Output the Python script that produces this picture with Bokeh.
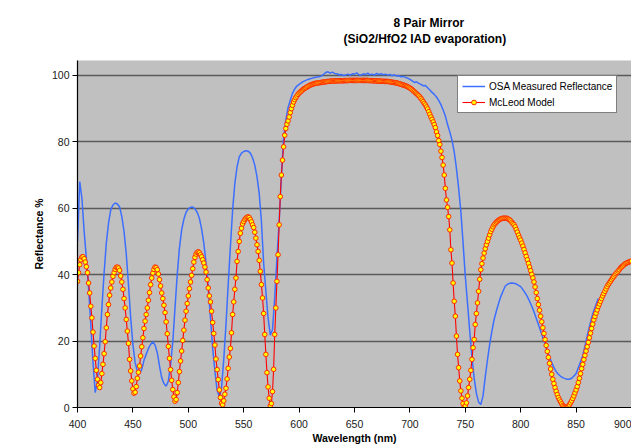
from bokeh.plotting import figure
from bokeh.models import Range1d, FixedTicker, Legend, LegendItem, Title
from bokeh.embed import file_html
from bokeh.resources import INLINE

# ---------------- data ----------------
title_line1 = "8 Pair Mirror"
title_line2 = "(SiO2/HfO2 IAD evaporation)"
x_label = "Wavelength (nm)"
y_label = "Reflectance %"
series_names = ["OSA Measured Reflectance", "McLeod Model"]
x_ticks = [400, 450, 500, 550, 600, 650, 700, 750, 800, 850, 900]
y_ticks = [0, 20, 40, 60, 80, 100]

# McLeod model, 1 nm steps 400..900
model_wl = list(range(400, 901))
model_r = [
    38.0, 40.6, 43.0, 44.5, 45.3, 45.4, 44.8, 43.8, 42.4, 40.6,
    37.5, 34.5, 30.5, 27.0, 22.7, 18.5, 14.8, 11.2, 8.5, 6.7,
    6.0, 7.5, 10.2, 13.0, 16.2, 19.8, 24.0, 28.0, 31.0, 33.8,
    36.0, 37.8, 39.5, 40.6, 41.6, 42.2, 42.3, 42.0, 41.3, 39.6,
    37.8, 35.6, 32.8, 30.0, 26.5, 23.0, 19.3, 14.5, 11.0, 8.0,
    5.6, 4.3, 4.6, 6.3, 8.8, 10.6, 12.5, 15.5, 18.3, 21.0,
    23.8, 26.0, 28.0, 30.0, 32.3, 34.6, 37.0, 39.0, 40.5, 41.6,
    42.3, 42.1, 41.5, 40.2, 38.5, 36.6, 34.5, 32.8, 30.8, 28.6,
    25.8, 22.2, 18.4, 14.8, 11.4, 8.2, 5.4, 3.2, 1.9, 2.4,
    4.5, 7.5, 10.8, 14.0, 17.0, 20.2, 23.3, 26.3, 29.0, 31.3,
    33.6, 35.8, 37.8, 39.8, 41.8, 43.8, 45.2, 46.2, 46.7, 46.9,
    46.6, 46.0, 45.4, 44.5, 43.5, 42.3, 40.8, 38.5, 36.0, 33.6,
    31.8, 29.0, 25.6, 22.3, 18.8, 14.6, 11.4, 8.4, 5.3, 3.0,
    1.3, 0.8, 2.0, 4.0, 5.8, 8.6, 11.8, 15.2, 17.8, 22.5,
    28.0, 31.8, 35.6, 39.0, 44.0, 47.0, 50.0, 52.5, 54.0, 55.3,
    56.0, 56.6, 57.0, 57.3, 57.4, 57.2, 56.6, 55.9, 55.0, 54.2,
    52.8, 51.0, 49.0, 47.0, 44.3, 41.0, 37.0, 33.0, 28.3, 22.0,
    16.0, 10.5, 6.2, 2.8, 0.5, 1.2, 4.8, 11.5, 22.0, 30.0,
    38.0, 46.0, 55.0, 63.5, 70.0, 74.5, 78.5, 82.0, 84.0, 85.3,
    86.3, 87.5, 88.8, 90.0, 91.0, 92.0, 92.7, 93.3, 93.8, 94.3,
    94.7, 95.0, 95.3, 95.6, 95.9, 96.1, 96.3, 96.5, 96.7, 96.9,
    97.1, 97.2, 97.35, 97.45, 97.55, 97.65, 97.7, 97.75, 97.8, 97.85,
    97.9, 97.95, 98.0, 98.05, 98.1, 98.15, 98.2, 98.2, 98.25, 98.3,
    98.3, 98.3, 98.35, 98.35, 98.35, 98.4, 98.4, 98.4, 98.4, 98.4,
    98.4, 98.45, 98.45, 98.45, 98.45, 98.5, 98.5, 98.5, 98.5, 98.5,
    98.5, 98.5, 98.5, 98.5, 98.5, 98.5, 98.5, 98.5, 98.5, 98.5,
    98.5, 98.5, 98.5, 98.45, 98.45, 98.45, 98.4, 98.4, 98.4, 98.35,
    98.35, 98.3, 98.3, 98.3, 98.25, 98.25, 98.25, 98.2, 98.2, 98.2,
    98.2, 98.15, 98.1, 98.0, 97.95, 97.9, 97.85, 97.8, 97.75, 97.65,
    97.55, 97.45, 97.35, 97.2, 97.1, 97.0, 96.9, 96.75, 96.6, 96.4,
    96.2, 96.0, 95.7, 95.4, 95.1, 94.8, 94.5, 94.2, 93.9, 93.5,
    93.1, 92.6, 92.1, 91.6, 91.1, 90.5, 89.9, 89.1, 88.3, 87.5,
    86.8, 86.0, 85.2, 84.3, 83.0, 81.9, 80.4, 79.2, 77.2, 75.3,
    73.0, 70.0, 66.0, 62.5, 60.3, 57.5, 53.5, 47.5, 43.5, 37.5,
    32.0, 27.5, 21.5, 16.0, 12.0, 8.0, 5.0, 2.8, 1.2, 0.1,
    0.5, 1.4, 3.5, 6.0, 8.5, 11.2, 14.5, 18.0, 20.5, 25.0,
    28.3, 31.5, 35.0, 38.6, 41.5, 43.3, 45.0, 46.5, 47.8, 49.0,
    50.0, 51.0, 52.0, 53.0, 53.7, 54.4, 55.0, 55.4, 55.8, 56.1,
    56.4, 56.6, 56.8, 56.9, 57.0, 57.0, 57.0, 57.0, 56.9, 56.7,
    56.5, 56.2, 55.8, 55.4, 55.0, 54.4, 53.6, 52.8, 51.9, 51.1,
    50.4, 49.5, 48.6, 47.6, 46.6, 45.5, 44.5, 43.4, 42.3, 41.2,
    40.1, 39.0, 37.8, 36.3, 34.6, 32.8, 31.0, 29.3, 27.5, 25.8,
    24.0, 22.3, 20.5, 18.7, 16.9, 15.1, 13.3, 11.6, 10.0, 8.5,
    7.2, 6.0, 4.9, 3.9, 3.0, 2.3, 1.7, 1.1, 0.6, 0.3,
    0.1, 0.0, 0.1, 0.4, 0.8, 1.4, 2.0, 2.7, 3.5, 4.4,
    5.3, 6.3, 7.5, 8.8, 10.2, 11.7, 13.0, 14.4, 15.7, 17.0,
    18.3, 19.6, 21.0, 22.4, 23.8, 25.1, 26.4, 27.4, 28.4, 29.4,
    30.4, 31.2, 32.0, 32.8, 33.6, 34.3, 35.0, 35.7, 36.4, 37.0,
    37.5, 38.0, 38.5, 39.0, 39.4, 39.9, 40.3, 40.7, 41.1, 41.5,
    42.0, 42.3, 42.6, 42.9, 43.2, 43.4, 43.6, 43.7, 43.9, 44.0,
    44.1,
]

# OSA measured reflectance, 2 nm steps 400..870
measured_wl = list(range(400, 871, 2))
measured_r = [
    50.0, 68.0, 63.0, 53.0, 45.0, 36.0, 25.0, 13.5, 4.5, 8.2,
    18.5, 30.0, 40.5, 49.5, 55.5, 59.5, 61.0, 61.6, 61.3, 60.4,
    57.5, 53.0, 46.3, 37.0, 27.0, 19.0, 13.5, 11.0, 10.2, 11.5,
    14.2, 16.0, 17.8, 19.0, 19.8, 18.8, 16.5, 12.5, 9.0, 7.2,
    6.4, 8.0, 12.8, 19.8, 30.0, 40.0, 48.0, 53.5, 56.7, 58.8,
    59.8, 60.3, 60.4, 59.8, 58.8, 57.0, 53.8, 49.5, 43.5, 36.0,
    27.0, 17.8, 11.0, 5.2, 3.2, 6.0, 14.5, 25.0, 37.0, 48.5,
    59.5, 67.5, 72.5, 75.5, 76.6, 77.1, 77.3, 77.2, 76.6, 75.2,
    73.0, 69.5, 64.5, 56.0, 43.5, 35.0, 27.0, 21.8, 23.5, 33.0,
    45.0, 56.0, 69.5, 81.0, 86.5, 90.3, 92.5, 94.6, 95.9, 96.8,
    97.3, 97.8, 98.2, 98.5, 98.8, 99.0, 99.2, 99.4, 99.5, 99.6,
    99.8, 100.3, 100.9, 101.1, 100.7, 101.0, 100.6, 100.5, 100.2, 100.3,
    100.0, 100.1, 100.4, 100.1, 100.5, 100.4, 100.8, 100.2, 100.1, 100.5,
    100.3, 100.7, 100.2, 100.4, 100.1, 100.6, 100.3, 100.5, 100.2, 100.4,
    100.1, 100.3, 99.9, 100.2, 99.8, 99.9, 99.6, 99.7, 99.4, 99.2,
    98.8, 98.4, 97.9, 98.1, 97.6, 97.3, 96.9, 97.0, 96.3, 95.6,
    94.9, 94.3, 93.5, 92.5, 91.2, 89.6, 87.8, 85.2, 83.0, 80.5,
    77.0, 72.0, 66.0, 59.0, 49.5, 39.5, 31.4, 23.0, 15.3, 8.8,
    4.3, 1.6, 0.9, 3.5, 9.2, 14.3, 19.0, 23.0, 26.5, 29.0,
    31.3, 33.4, 35.0, 36.5, 37.1, 37.4, 37.5, 37.4, 37.2, 36.8,
    36.4, 35.5, 34.5, 33.4, 32.0, 30.5, 28.8, 26.9, 25.0, 23.0,
    21.0, 19.0, 17.0, 15.2, 13.5, 12.0, 10.8, 10.0, 9.4, 9.0,
    8.7, 8.5, 8.5, 8.8, 9.5, 10.2, 12.0, 13.8, 15.6, 18.5,
    21.5, 24.3, 27.0, 29.2, 31.0, 32.8,
]

FONT = "Liberation Sans"

p = figure(width=631, height=446, output_backend="svg", toolbar_location=None,
           x_range=Range1d(400, 900), y_range=Range1d(0, 104.5),
           min_border_left=77, min_border_right=0, min_border_top=60,
           min_border_bottom=39)
p.background_fill_color = "#C0C0C0"
p.border_fill_color = "white"
p.outline_line_color = None

# grid
p.xgrid.visible = False
p.ygrid.ticker = FixedTicker(ticks=y_ticks)
p.ygrid.grid_line_color = "#5a5a5a"
p.ygrid.grid_line_width = 1.5

# axes
p.xaxis.ticker = FixedTicker(ticks=x_ticks)
p.yaxis.ticker = FixedTicker(ticks=y_ticks)
for ax in (p.xaxis, p.yaxis):
    ax.axis_line_color = "black"
    ax.axis_line_width = 1.2
    ax.major_tick_line_color = "black"
    ax.major_tick_in = 0
    ax.major_tick_out = 5
    ax.minor_tick_line_color = None
    ax.major_label_text_font = FONT
    ax.major_label_text_font_size = "10.5px"
    ax.major_label_text_color = "#1a1a1a"
    ax.axis_label_text_font = FONT
    ax.axis_label_text_font_size = "10.5px"
    ax.axis_label_text_font_style = "bold"
    ax.axis_label_text_color = "black"
p.xaxis.axis_label = x_label
p.yaxis.axis_label = y_label
p.xaxis.major_label_standoff = 7
p.xaxis.axis_label_standoff = 1
p.yaxis.major_label_standoff = 3
p.yaxis.axis_label_standoff = 4

# series
blue = p.line(measured_wl, measured_r, line_color="#3C6EFF", line_width=1.5)
red_line = p.line(model_wl, model_r, line_color="#FF0000", line_width=1.1)
red_pts = p.scatter(model_wl, model_r, marker="circle", size=4.6,
                    fill_color="#FFFF00", line_color="#FF2A00", line_width=1.0)

legend = Legend(items=[LegendItem(label=series_names[0], renderers=[blue]),
                       LegendItem(label=series_names[1], renderers=[red_line, red_pts])],
                location=(380, 294), orientation="vertical")
legend.background_fill_color = "white"
legend.background_fill_alpha = 1.0
legend.border_line_color = "black"
legend.border_line_width = 1
legend.label_text_font = FONT
legend.label_text_font_size = "10px"
legend.label_text_color = "black"
legend.padding = 4
legend.spacing = 4
legend.margin = 0
legend.glyph_width = 23
legend.glyph_height = 12
legend.label_height = 12
legend.label_standoff = 4
p.add_layout(legend)

# two-line title; a blank spacer panel sits between it and the plot
spacer = Title(text=" ", standoff=12, text_font_size="1px")
t2 = Title(text=title_line2, align="left", offset=266, standoff=0,
           text_font=FONT, text_font_size="12px", text_font_style="bold",
           text_color="black")
t1 = Title(text=title_line1, align="left", offset=316, standoff=0,
           text_font=FONT, text_font_size="12px", text_font_style="bold",
           text_color="black")
p.add_layout(spacer, "above")
p.add_layout(t2, "above")
p.add_layout(t1, "above")

open("out.html", "w").write(file_html(p, INLINE))
